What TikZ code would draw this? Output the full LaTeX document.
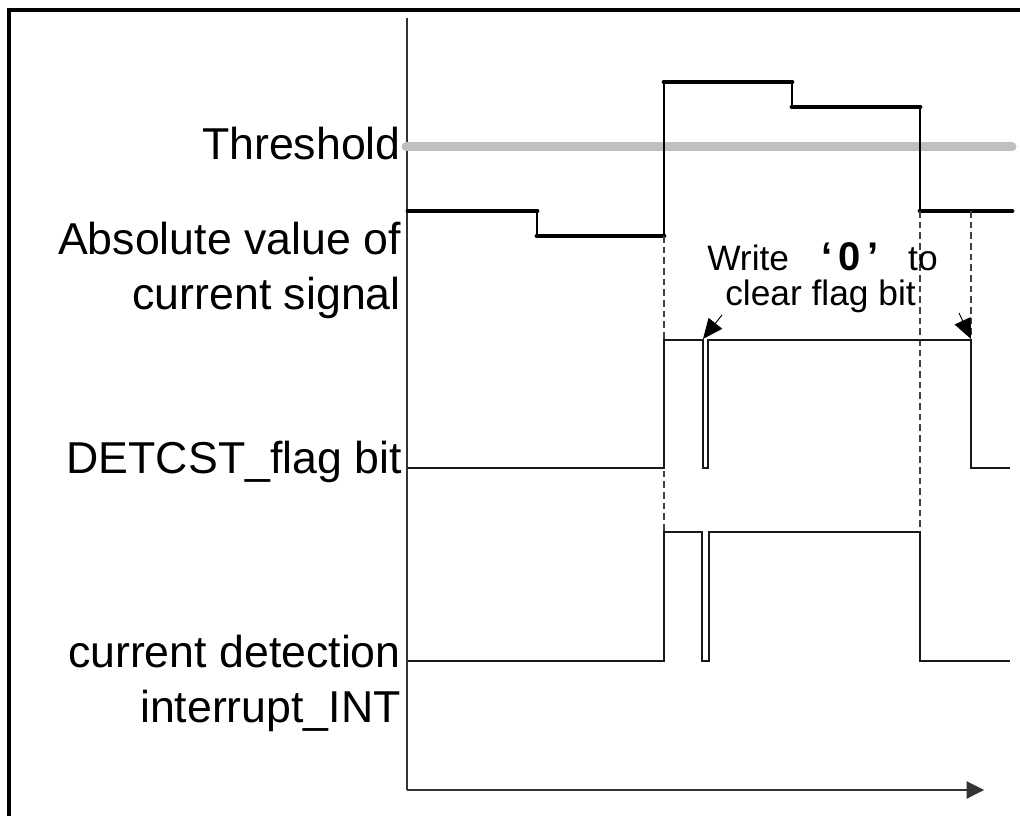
\documentclass[tikz,border=0pt]{standalone}
\usepackage{fontspec}
\setmainfont{Liberation Sans}
\usetikzlibrary{arrows.meta}
\begin{document}
\begin{tikzpicture}[x=0.75pt,y=-0.75pt,
  lbl/.style={anchor=base east, font=\fontsize{33.5}{40}\selectfont, inner sep=0pt},
  note/.style={anchor=base west, font=\fontsize{26.5}{31}\selectfont, inner sep=0pt},
  frame/.style={line width=3pt, line join=miter},
  axis/.style={line width=0.8pt, black!80},
  thresh/.style={line width=6.75pt, black!25, line cap=round},
  analog/.style={line width=3.6pt, line cap=round},
  riser/.style={line width=0.8pt},
  wave/.style={line width=0.9pt, black!90},
  guide/.style={line width=0.8pt, black!75, dash pattern=on 5pt off 3pt},
  pointer/.style={line width=0.7pt, -{Triangle[length=15pt,width=13pt]}},
  tip/.style={-{Triangle[length=13pt,width=13pt]}}
]
\useasboundingbox (0,0) rectangle (1020,816);
\fill[white] (0,0) rectangle (1020,816);
% frame
\draw[frame] (9,818) -- (9,10) -- (1022,10);
% axes
\coordinate (otop) at (407,18);
\coordinate (orig) at (407,790);
\coordinate (tend) at (984,790);
\draw[axis] (otop) -- (orig);
\draw[axis,tip] (orig) -- (tend);
% threshold
\draw[thresh] (406,147) -- (1012,147);
% analog current signal
\draw[analog] (408,211) -- (537,211);
\draw[analog] (537,236) -- (664,236);
\draw[analog] (664,82) -- (792,82);
\draw[analog] (792,107) -- (920,107);
\draw[analog] (920,211) -- (1012,211);
\draw[riser] (537,211) -- (537,236);
\draw[riser] (664,236) -- (664,82);
\draw[riser] (792,82) -- (792,107);
\draw[riser] (920,107) -- (920,211);
% guides
\draw[guide] (664,236) -- (664,532);
\draw[guide] (920,211) -- (920,532);
\draw[guide] (971,211) -- (971,340);
% flag bit
\draw[wave] (408,468) -- (664,468) -- (664,340) -- (703,340) -- (703,468) -- (708,468) -- (708,340) -- (971,340) -- (971,468) -- (1010,468);
% interrupt
\draw[wave] (408,661) -- (664,661) -- (664,532) -- (702,532) -- (702,661) -- (709,661) -- (709,532) -- (920,532) -- (920,661) -- (1010,661);
% labels
\node[lbl] (lthr) at (401,160) {Threshold};
\node[lbl] (labs1) at (401,255) {Absolute value of};
\node[lbl] (labs2) at (401,310) {current signal};
\node[lbl] (lflag) at (402,473) {DETCST\_flag bit};
\node[lbl] (lint1) at (401,667) {current detection};
\node[lbl] (lint2) at (401,722) {interrupt\_INT};
% note
\node[note] (nw) at (707,271) {Write\hspace{24pt}{\fontsize{30}{31}\selectfont\bfseries ‘\,0\,’}\hspace{22pt}to};
\node[note] (nc) at (725,306) {clear flag bit};
\coordinate (srcA) at (722,315);
\coordinate (tipA) at (703,339);
\coordinate (srcB) at (959,313);
\coordinate (tipB) at (971,339);
\draw[pointer] (srcA) -- (tipA);
\draw[pointer] (srcB) -- (tipB);
\end{tikzpicture}
\end{document}
